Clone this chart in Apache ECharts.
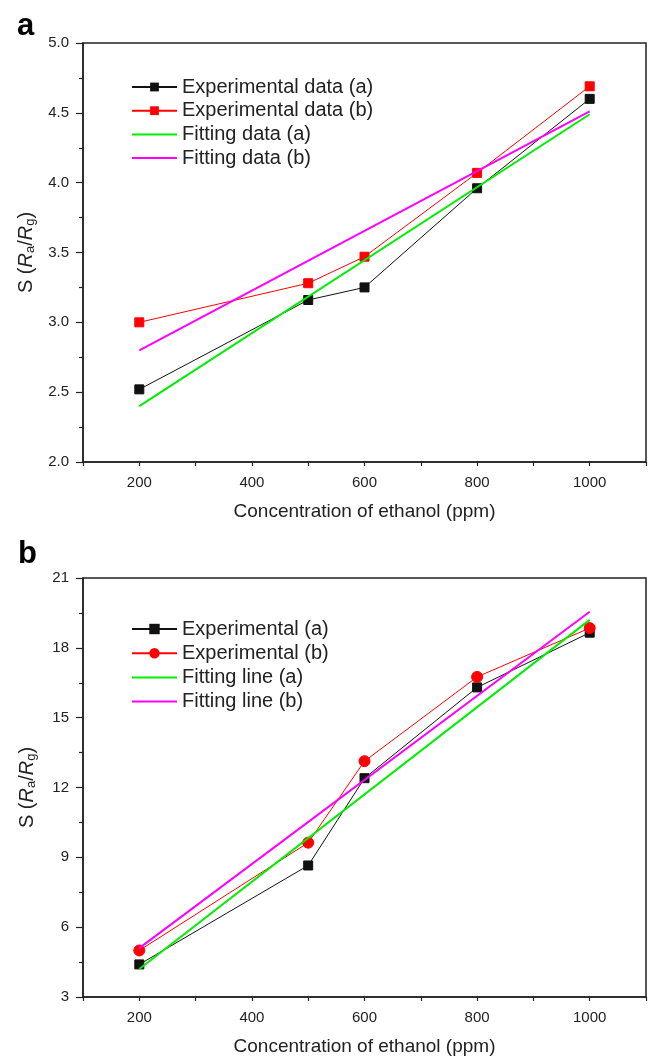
<!DOCTYPE html>
<html>
<head>
<meta charset="utf-8">
<script src="https://cdn.jsdelivr.net/npm/echarts@6/dist/echarts.min.js"></script>
<style>
html,body{margin:0;padding:0;background:#fff;}
#c{width:649px;height:1059px;}
</style>
</head>
<body>
<div id="c"></div>
<script>
// ---- Data ----
const concentration = [200, 500, 600, 800, 1000];
const fitX = [200, 1000];

// Panel a
const expA_a = [2.52, 3.16, 3.25, 3.96, 4.60];
const expB_a = [3.00, 3.28, 3.47, 4.07, 4.69];
const fitA_a = [2.40, 4.49];
const fitB_a = [2.80, 4.51];

// Panel b
const expA_b = [4.4, 8.65, 12.4, 16.3, 18.65];
const expB_b = [5.0, 9.63, 13.13, 16.75, 18.85];
const fitA_b = [4.2, 19.2];
const fitB_b = [5.1, 19.55];

const namesA = ['Experimental data (a)', 'Experimental data (b)', 'Fitting data (a)', 'Fitting data (b)'];
const namesB = ['Experimental (a)', 'Experimental (b)', 'Fitting line (a)', 'Fitting line (b)'];

const xTitle = 'Concentration of ethanol (ppm)';

function pairs(xs, ys){ return xs.map((x,i)=>[x, ys[i]]); }

const FONT = 'Liberation Sans, Arial, Helvetica, sans-serif';
const TXT = '#222';

function xAxis(gi){
  return {
    type:'value', gridIndex:gi, min:100, max:1100, interval:100,
    name:xTitle, nameLocation:'middle', nameGap:40,
    nameTextStyle:{fontFamily:FONT, fontSize:19, color:TXT},
    axisLine:{show:true, lineStyle:{color:'#222', width:1.5}},
    axisTick:{show:true, length:4, lineStyle:{color:'#222', width:1.2}},
    axisLabel:{fontFamily:FONT, fontSize:15, color:TXT, margin:13,
      formatter:v => (v % 200 === 0 && v>=200 && v<=1000) ? String(v) : ''},
    splitLine:{show:false}
  };
}
function yAxis(gi, min, max, interval, dec){
  return {
    type:'value', gridIndex:gi, min:min, max:max, interval:interval,
    name:'S ({i|R}{s|a}/{i|R}{s|g})', nameLocation:'middle', nameGap:45, nameRotate:90,
    nameTextStyle:{fontFamily:FONT, fontSize:20, color:TXT, lineHeight:22,
      rich:{
        i:{fontFamily:FONT, fontSize:20, fontStyle:'italic', color:TXT, lineHeight:22},
        s:{fontFamily:FONT, fontSize:13, color:TXT, lineHeight:22, verticalAlign:'bottom'}
      }},
    axisLine:{show:true, lineStyle:{color:'#222', width:1.5}},
    axisTick:{show:true, length:7, lineStyle:{color:'#222', width:1.2}},
    minorTick:{show:true, splitNumber:2, length:4, lineStyle:{color:'#222', width:1.2}},
    axisLabel:{fontFamily:FONT, fontSize:15, color:TXT, margin:14,
      formatter:v => v.toFixed(dec)},
    splitLine:{show:false}
  };
}
function expSeries(name, gi, data, color, symbol, size){
  return {
    name:name, type:'line', xAxisIndex:gi, yAxisIndex:gi, data:data,
    symbol:symbol, symbolSize:size, showSymbol:true,
    lineStyle:{color:color, width:1},
    itemStyle:{color:color, borderColor:color},
    z:2, animation:false
  };
}
function fitSeries(name, gi, data, color){
  return {
    name:name, type:'line', xAxisIndex:gi, yAxisIndex:gi, data:data,
    symbol:'none', lineStyle:{color:color, width:2}, itemStyle:{color:color},
    z:3, animation:false
  };
}
function legend(names, top, gap, ih){
  return {
    data:names.map((n,i) => i < 2 ? {name:n} : {name:n, itemStyle:{opacity:0}}),
    orient:'vertical', left:131, top:top, padding:0,
    itemWidth:45, itemHeight:ih, itemGap:gap,
    textStyle:{fontFamily:FONT, fontSize:20, color:TXT, lineHeight:20},
    selectedMode:false
  };
}

const chart = echarts.init(document.getElementById('c'), null, {renderer:'canvas'});
chart.setOption({
  backgroundColor:'#fff',
  animation:false,
  grid:[
    {left:83, top:43, width:563, height:419, show:true, borderColor:'#222', borderWidth:1.5, backgroundColor:'transparent'},
    {left:83, top:578, width:563, height:419, show:true, borderColor:'#222', borderWidth:1.5, backgroundColor:'transparent'}
  ],
  xAxis:[xAxis(0), xAxis(1)],
  yAxis:[yAxis(0, 2, 5, 0.5, 1), yAxis(1, 3, 21, 3, 0)],
  legend:[legend(namesA, 77, 3.7, 11), legend(namesB, 619, 4.2, 13)],
  graphic:[
    {type:'text', left:17, top:11, style:{text:'a', font:'bold 31px '+FONT, fill:'#000'}},
    {type:'text', left:18, top:539, style:{text:'b', font:'bold 31px '+FONT, fill:'#000'}}
  ],
  series:[
    expSeries(namesA[0], 0, pairs(concentration, expA_a), '#111', 'rect', 9),
    expSeries(namesA[1], 0, pairs(concentration, expB_a), '#ff0000', 'rect', 9),
    fitSeries(namesA[2], 0, pairs(fitX, fitA_a), '#00ee00'),
    fitSeries(namesA[3], 0, pairs(fitX, fitB_a), '#ff00ff'),
    expSeries(namesB[0], 1, pairs(concentration, expA_b), '#111', 'rect', 9),
    expSeries(namesB[1], 1, pairs(concentration, expB_b), '#ff0000', 'circle', 11),
    fitSeries(namesB[2], 1, pairs(fitX, fitA_b), '#00ee00'),
    fitSeries(namesB[3], 1, pairs(fitX, fitB_b), '#ff00ff')
  ]
});
</script>
</body>
</html>
